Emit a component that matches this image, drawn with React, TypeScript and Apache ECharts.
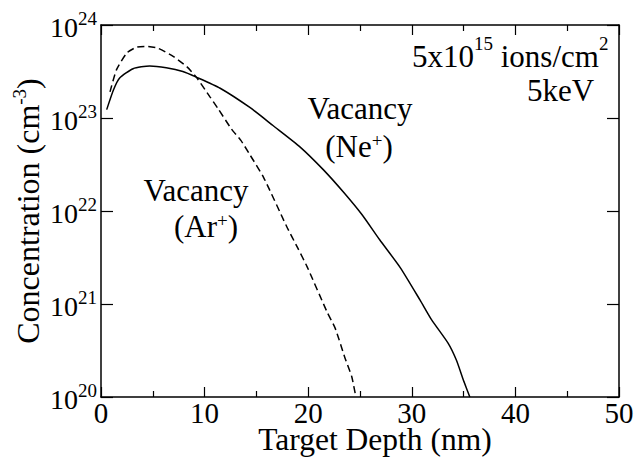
import React, { useEffect, useRef } from 'react';
import * as echarts from 'echarts';

const FONT = "'Liberation Serif', 'Times New Roman', Times, serif";

// Vacancy profile from Ne+ implantation (solid)
const neDepth = [0.55, 1.2, 1.8, 3.1, 4.7, 6.3, 7.9, 9.2, 11.5, 14.4, 16.6, 19.2, 21.5, 23.5, 25.2, 26.9, 28.9, 30.8, 31.9, 33.5, 34.3, 35.0, 35.6];
const neConc = [1.23e23, 2.0e23, 2.69e23, 3.39e23, 3.63e23, 3.47e23, 3.16e23, 2.75e23, 2.09e23, 1.29e23, 8.3e22, 4.9e22, 2.75e22, 1.55e22, 9.1e21, 4.9e21, 2.45e21, 1.1e21, 6.8e20, 3.8e20, 2.5e20, 1.5e20, 1.0e20];

// Vacancy profile from Ar+ implantation (dashed)
const arDepth = [0.87, 1.5, 2.5, 3.4, 4.4, 5.5, 7.0, 8.3, 9.2, 10.5, 11.3, 12.6, 13.5, 14.4, 15.7, 17.9, 19.0, 19.9, 21.8, 22.6, 23.55, 24.2, 24.6];
const arConc = [1.91e23, 3.31e23, 5.01e23, 5.75e23, 5.89e23, 5.62e23, 4.57e23, 3.55e23, 2.75e23, 1.7e23, 1.26e23, 7.6e22, 5.75e22, 3.98e22, 2.29e22, 6.9e21, 3.98e21, 2.51e21, 8.3e20, 5.5e20, 2.63e20, 1.66e20, 1.0e20];

const xMin = 0;
const xMax = 50;
const xStep = 10;
const yMin = 1e20;
const yMax = 1e24;

const tickRich = {
  b: { fontSize: 28, lineHeight: 28, fontFamily: FONT, color: '#000', verticalAlign: 'bottom' },
  s: { fontSize: 19, lineHeight: 33, fontFamily: FONT, color: '#000', verticalAlign: 'top' },
};

const annRich = (supLine: number) => ({
  m: { fontSize: 31, lineHeight: 31, fontFamily: FONT, fill: '#000', verticalAlign: 'bottom' },
  s: { fontSize: 19, lineHeight: supLine, fontFamily: FONT, fill: '#000', verticalAlign: 'top' },
});

export default function App() {
  const ref = useRef<HTMLDivElement>(null);
  useEffect(() => {
    if (!ref.current) return;
    const chart = echarts.init(ref.current, undefined, { renderer: 'svg' });
    const axisLine = { show: true, onZero: false, lineStyle: { color: '#000', width: 1.5 } };
    const xCommon = {
      type: 'value',
      min: xMin,
      max: xMax,
      interval: xStep,
      axisLine,
      splitLine: { show: false },
      axisTick: { show: true, inside: true, length: 10, lineStyle: { color: '#000', width: 1.2 } },
      minorTick: { show: true, splitNumber: 2, length: 6, lineStyle: { color: '#000', width: 1.2 } },
    };
    const yCommon = {
      type: 'log',
      logBase: 10,
      min: yMin,
      max: yMax,
      interval: 1,
      axisLine,
      splitLine: { show: false },
      axisTick: { show: true, inside: true, length: 12, lineStyle: { color: '#000', width: 1.2 } },
    };
    chart.setOption({
      animation: false,
      backgroundColor: '#fff',
      grid: { left: 101, right: 18, top: 25, bottom: 65, containLabel: false, outerBoundsMode: 'none' },
      xAxis: [
        {
          ...xCommon,
          position: 'bottom',
          name: 'Target Depth (nm)',
          nameLocation: 'middle',
          nameGap: 28.75,
          nameMoveOverlap: false,
          nameTextStyle: { fontFamily: FONT, fontSize: 31.5, lineHeight: 28, color: '#000', padding: [0, 0, 0, 30] },
          axisLabel: { show: true, margin: 4.5, lineHeight: 22, fontFamily: FONT, fontSize: 29, color: '#000' },
        },
        {
          ...xCommon,
          position: 'top',
          axisLabel: { show: false },
        },
      ],
      yAxis: [
        {
          ...yCommon,
          position: 'left',
          name: '{m|Concentration (cm}{s|-3}{m|)}',
          nameLocation: 'middle',
          nameGap: 57,
          nameMoveOverlap: false,
          nameTextStyle: {
            fontFamily: FONT,
            fontSize: 32,
            color: '#000',
            rich: {
              m: { fontSize: 32, lineHeight: 32, fontFamily: FONT, color: '#000', verticalAlign: 'bottom' },
              s: { fontSize: 19, lineHeight: 34, fontFamily: FONT, color: '#000', verticalAlign: 'top' },
            },
          },
          axisLabel: {
            show: true,
            margin: 4,
            formatter: (v: number) => `{b|10}{s|${Math.round(Math.log10(v))}}`,
            rich: tickRich,
          },
        },
        {
          ...yCommon,
          position: 'right',
          axisLabel: { show: false },
        },
      ],
      graphic: [
        { type: 'text', x: 360, y: 108, style: { text: 'Vacancy', font: `31px ${FONT}`, fill: '#000', align: 'center', verticalAlign: 'middle' } },
        { type: 'text', x: 359, y: 146, style: { text: '{m|(Ne}{s|+}{m|)}', rich: annRich(19), fill: '#000', align: 'center', verticalAlign: 'middle' } },
        { type: 'text', x: 196, y: 190, style: { text: 'Vacancy', font: `31px ${FONT}`, fill: '#000', align: 'center', verticalAlign: 'middle' } },
        { type: 'text', x: 206, y: 226, style: { text: '{m|(Ar}{s|+}{m|)}', rich: annRich(19), fill: '#000', align: 'center', verticalAlign: 'middle' } },
        { type: 'text', x: 412, y: 53, style: { text: '{m|5x10}{s|15}{m| ions/cm}{s|2}', rich: annRich(38), fill: '#000', align: 'left', verticalAlign: 'middle' } },
        { type: 'text', x: 527, y: 90, style: { text: '5keV', font: `31px ${FONT}`, fill: '#000', align: 'left', verticalAlign: 'middle' } },
      ],
      series: [
        {
          name: 'Vacancy (Ne+)',
          type: 'line',
          xAxisIndex: 0,
          yAxisIndex: 0,
          data: neDepth.map((d, i) => [d, neConc[i]]),
          showSymbol: false,
          symbol: 'none',
          smooth: 0.2,
          lineStyle: { color: '#000', width: 1.5, type: 'solid' },
        },
        {
          name: 'Vacancy (Ar+)',
          type: 'line',
          xAxisIndex: 0,
          yAxisIndex: 0,
          data: arDepth.map((d, i) => [d, arConc[i]]),
          showSymbol: false,
          symbol: 'none',
          smooth: 0.2,
          lineStyle: { color: '#000', width: 1.5, type: [7, 4] },
        },
      ],
    });
    return () => chart.dispose();
  }, []);
  return <div ref={ref} style={{ position: 'fixed', left: 0, top: 0, width: 637, height: 462 }} />;
}
